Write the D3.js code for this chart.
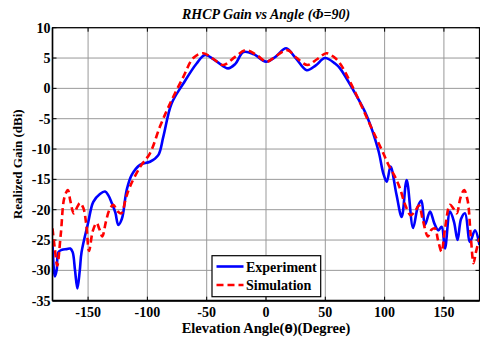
<!DOCTYPE html>
<html>
<head>
<meta charset="utf-8">
<script src="https://cdn.jsdelivr.net/npm/d3@7"></script>
<style>
  html, body { margin: 0; padding: 0; background: #fff; }
  svg { display: block; }
  text { font-family: "Liberation Serif", "Times New Roman", serif; font-weight: bold; fill: #000; }
</style>
</head>
<body>
<svg id="chart" width="480" height="343"></svg>
<script>
// ---- Data ----
const expAngle = [-180,-179,-178,-176.5,-175,-172,-168,-165,-163,-161,-159,-157,-155.5,-150,-145.6,-140,-135.7,-133,-130,-127,-124.5,-121.5,-117.5,-113.3,-106.2,-97.8,-90.8,-86.6,-79.6,-69.7,-58.5,-51.4,-42,-32,-26,-19,-10,0,8,17,25,34.3,42,49.7,58.2,62.4,73.6,84.9,94.7,98.9,101.8,105,110,114.4,118.6,124,128,131,134,138.3,142,145.3,148.1,150.9,155.1,158.5,161.5,164.5,167.8,172,176.2,180];
const expGain  = [-25.5,-29.5,-31,-30,-27,-26.6,-26.5,-26.4,-27,-30,-33,-30,-27,-22.2,-18.7,-17.4,-17.0,-17.6,-18.9,-20.5,-22.5,-21.5,-16.8,-14.3,-12.6,-12.1,-11,-8,-2.5,0.8,4.1,5.5,4.5,3.3,4.0,6.0,5.6,4.4,5.2,6.6,5.0,3.0,3.8,5.0,4.1,3.3,-0.3,-4.5,-10.2,-14,-15.4,-12.9,-17.5,-21.2,-15.1,-23,-19.5,-18.5,-22.5,-20.3,-22.3,-23.4,-22.8,-26.4,-20.3,-22,-25,-21.5,-20.6,-25.3,-23.4,-25.8];

const simAngle = [-180,-178,-176,-173,-170,-167,-165,-162,-159,-156.8,-154,-151.5,-149.2,-146,-142.8,-140.5,-138,-135,-132,-128.7,-125,-122,-118,-114.7,-106,-97.8,-89.4,-80.9,-69.7,-61.3,-53,-44,-36,-26,-17,-8,0.6,9,18,26,35,43,51,57,62.4,73.6,87.7,98.9,103,108.8,113,117,122,125.5,129,132,136.5,139.5,142.5,145,148,151,155.1,158,160.8,164,167,170,172.5,175,177,180];
const simGain  = [-23.1,-26.5,-29.2,-24,-18,-16.75,-18.5,-20.6,-19.5,-18.9,-19.7,-22.5,-26.8,-23.5,-22.2,-23.2,-24.4,-22,-20,-19.2,-20.3,-20.6,-18,-16.2,-12.9,-10.7,-6.3,-2.5,1.9,5.0,5.8,4.8,3.85,5.2,6.3,5.5,4.4,5.4,6.3,5.0,3.85,4.8,5.8,5.2,4.1,0,-6.0,-10.7,-12.5,-14.6,-16.5,-19,-20.9,-20.3,-19.3,-21.5,-24.4,-23.3,-23.1,-25,-26.9,-23,-19.2,-19.8,-20.6,-18,-16.75,-18.5,-24,-28.8,-27,-24.7];

const xTicks = [-150,-100,-50,0,50,100,150];
const yTicks = [-35,-30,-25,-20,-15,-10,-5,0,5,10];
const seriesNames = ["Experiment","Simulation"];

// ---- Layout ----
const svg = d3.select("#chart");
const L = 52.5, R = 479.5, T = 27.7, B = 300.7;
const x = d3.scaleLinear().domain([-180,180]).range([L,R]);
const y = d3.scaleLinear().domain([-35,10]).range([B,T]);

// grid
const g = svg.append("g");
g.selectAll(".gx").data(xTicks).enter().append("line")
  .attr("x1", d=>x(d)).attr("x2", d=>x(d)).attr("y1", T).attr("y2", B)
  .attr("stroke", "#999").attr("stroke-width", 1);
g.selectAll(".gy").data(yTicks).enter().append("line")
  .attr("y1", d=>y(d)).attr("y2", d=>y(d)).attr("x1", L).attr("x2", R)
  .attr("stroke", "#999").attr("stroke-width", 1);

// inward ticks on all sides
const tl = 4;
xTicks.forEach(d=>{
  g.append("line").attr("x1",x(d)).attr("x2",x(d)).attr("y1",T).attr("y2",T+tl).attr("stroke","#000");
  g.append("line").attr("x1",x(d)).attr("x2",x(d)).attr("y1",B).attr("y2",B-tl).attr("stroke","#000");
});
yTicks.forEach(d=>{
  g.append("line").attr("x1",L).attr("x2",L+tl).attr("y1",y(d)).attr("y2",y(d)).attr("stroke","#000");
  g.append("line").attr("x1",R).attr("x2",R-tl).attr("y1",y(d)).attr("y2",y(d)).attr("stroke","#000");
});

// clip
svg.append("defs").append("clipPath").attr("id","clip")
  .append("rect").attr("x",L).attr("y",T).attr("width",R-L).attr("height",B-T);

const line = d3.line().x(d=>x(d[0])).y(d=>y(d[1])).curve(d3.curveCatmullRom.alpha(0.5));
const expData = expAngle.map((a,i)=>[a,expGain[i]]);
const simData = simAngle.map((a,i)=>[a,simGain[i]]);

const plot = svg.append("g").attr("clip-path","url(#clip)");
plot.append("path").datum(expData).attr("d", line)
  .attr("fill","none").attr("stroke","#0000ff").attr("stroke-width",2.6).attr("stroke-linejoin","round");
plot.append("path").datum(simData).attr("d", line)
  .attr("fill","none").attr("stroke","#ff0000").attr("stroke-width",2.6).attr("stroke-dasharray","7,4");

// box
svg.append("rect").attr("x",L).attr("y",T).attr("width",R-L).attr("height",B-T)
  .attr("fill","none").attr("stroke","#000").attr("stroke-width",1.2);
svg.append("line").attr("x1",L).attr("x2",R).attr("y1",B).attr("y2",B).attr("stroke","#000").attr("stroke-width",2);
svg.append("line").attr("x1",L).attr("x2",L).attr("y1",T).attr("y2",B).attr("stroke","#000").attr("stroke-width",1.5);

// tick labels
svg.selectAll(".xl").data(xTicks).enter().append("text")
  .attr("x", d=>x(d)).attr("y", 316.7).attr("text-anchor","middle")
  .attr("font-size", 14).text(d=>d);
svg.selectAll(".yl").data(yTicks).enter().append("text")
  .attr("x", L-2).attr("y", d=>y(d)).attr("dy","0.35em").attr("text-anchor","end")
  .attr("font-size", 14).text(d=>d);

// axis titles
const xt = svg.append("text").attr("x", (L+R)/2).attr("y", 333.3).attr("text-anchor","middle").attr("font-size",14.5);
xt.append("tspan").text("Elevation Angle(");
xt.append("tspan").attr("font-family","DejaVu Sans").attr("font-size",12).text("θ");
xt.append("tspan").text(")(Degree)");

svg.append("text").attr("transform", `translate(22,${(T+B)/2}) rotate(-90)`)
  .attr("text-anchor","middle").attr("font-size",13).text("Realized Gain (dBi)");

svg.append("text").attr("x", (L+R)/2).attr("y", 19).attr("text-anchor","middle")
  .attr("font-size",14).attr("font-style","italic").text("RHCP Gain vs Angle (Φ=90)");

// legend
const lg = svg.append("g");
lg.append("rect").attr("x",212).attr("y",255.7).attr("width",108.7).attr("height",41)
  .attr("fill","#fff").attr("stroke","#000").attr("stroke-width",1.2);
const colors = ["#0000ff","#ff0000"];
const dashes = [null,"7,4"];
seriesNames.forEach((n,i)=>{
  const yy = 266.5 + i*18.5;
  lg.append("line").attr("x1",216.5).attr("x2",243.5).attr("y1",yy).attr("y2",yy)
    .attr("stroke",colors[i]).attr("stroke-width",2.6).attr("stroke-dasharray",dashes[i]);
  lg.append("text").attr("x",246).attr("y",yy+5).attr("font-size",14).text(n);
});
</script>
</body>
</html>
